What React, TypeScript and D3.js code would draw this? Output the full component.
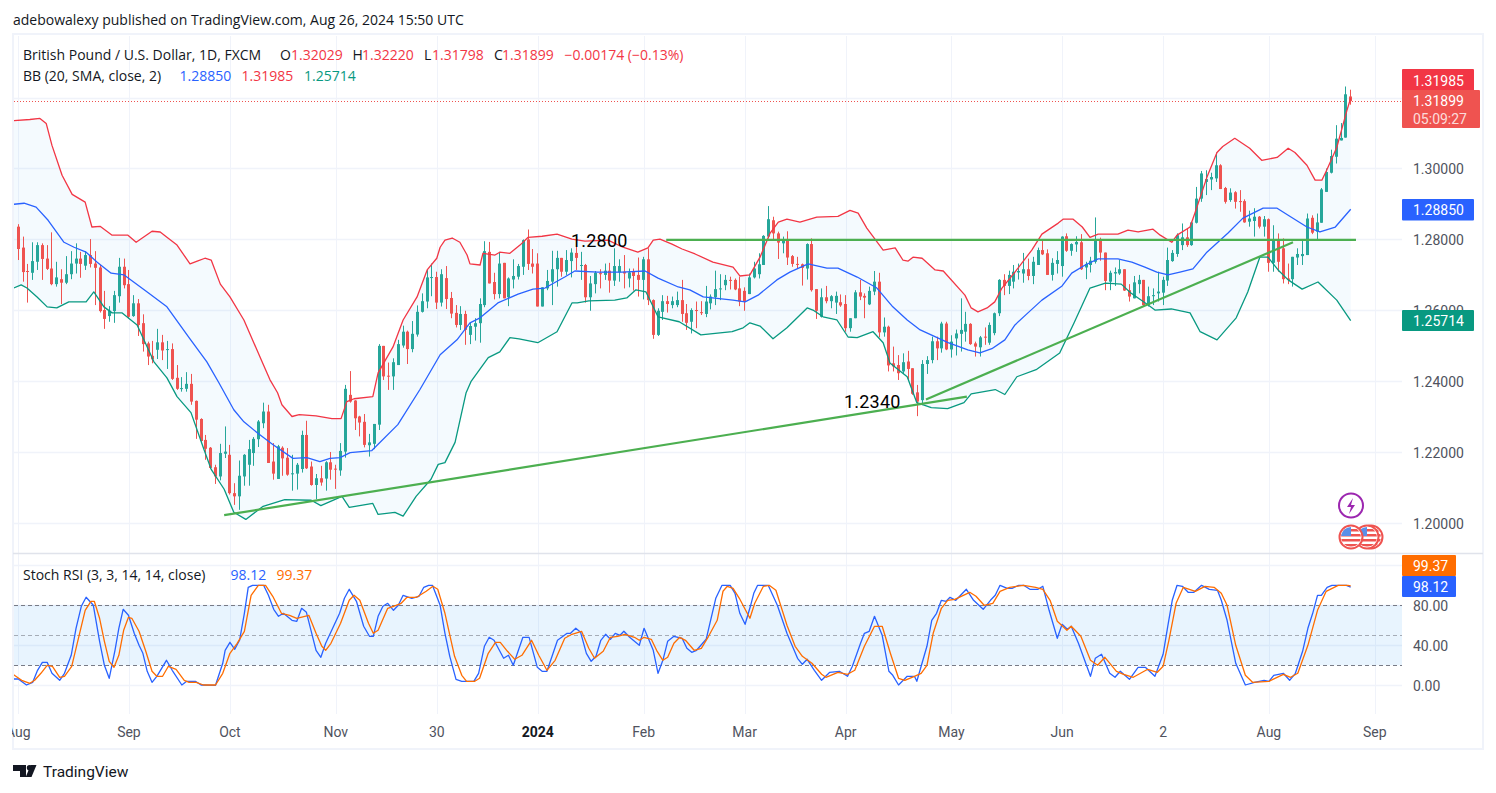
import React from "react";
import * as d3 from "d3";

type C = [number, number, number, number];

// OHLC read off the picture, bar by bar
const candlesAugSep23: C[] = [
[1.2836,1.2843,1.2742,1.2773],[1.2777,1.2808,1.2681,1.2708],[1.2711,1.2731,1.2622,1.2710],[1.2706,1.2792,1.2686,1.2739],[1.2737,1.2792,1.2714,1.2784],[1.2784,1.2789,1.2686,1.2745],[1.2746,1.2784,1.2714,1.2717],[1.2718,1.2820,1.2671,1.2674],[1.2674,1.2737,1.2667,1.2693],[1.2688,1.2716,1.2618,1.2678],
[1.2678,1.2753,1.2674,1.2702],[1.2702,1.2767,1.2688,1.2732],[1.2732,1.2789,1.2704,1.2746],[1.2746,1.2765,1.2692,1.2731],[1.2726,1.2767,1.2714,1.2756],[1.2756,1.2801,1.2721,1.2731],[1.2732,1.2767,1.2615,1.2720],[1.2721,1.2728,1.2594,1.2598],[1.2601,1.2655,1.2548,1.2576],[1.2584,1.2612,1.2568,1.2599],
[1.2598,1.2655,1.2565,1.2643],[1.2640,1.2748,1.2622,1.2723],[1.2723,1.2746,1.2662,1.2671],[1.2674,1.2714,1.2578,1.2582],[1.2584,1.2643,1.2582,1.2620],[1.2620,1.2632,1.2528,1.2559],[1.2564,1.2589,1.2484,1.2505],[1.2507,1.2512,1.2446,1.2470],[1.2472,1.2514,1.2451,1.2462],[1.2489,1.2548,1.2463,1.2510],
[1.2510,1.2531,1.2460,1.2487],[1.2489,1.2514,1.2435,1.2491],[1.2491,1.2507,1.2404,1.2407],[1.2410,1.2446,1.2376,1.2379],[1.2379,1.2412,1.2371,1.2381],[1.2379,1.2426,1.2371,1.2393],[1.2393,1.2421,1.2334,1.2343],[1.2345,1.2346,1.2238,1.2292],[1.2294,1.2296,1.2230,1.2232],[1.2235,1.2249,1.2179,1.2210],
[1.2213,1.2215,1.2153,1.2156],[1.2158,1.2165,1.2111,1.2132],[1.2132,1.2224,1.2121,1.2198],[1.2196,1.2273,1.2184,1.2202],[1.2193,1.2221,1.2081,1.2085],[1.2085,1.2113,1.2052,1.2076],[1.2076,1.2177,1.2038,1.2134],
];
const candlesOctDec23: C[] = [
[1.2132,1.2195,1.2106,1.2193],[1.2165,1.2235,1.2106,1.2209],[1.2198,1.2243,1.2162,1.2238],[1.2237,1.2291,1.2215,1.2287],[1.2282,1.2340,1.2268,1.2315],[1.2315,1.2334,1.2170,1.2170],[1.2174,1.2226,1.2123,1.2140],[1.2125,1.2221,1.2125,1.2217],[1.2213,1.2217,1.2134,1.2183],[1.2185,1.2212,1.2134,1.2137],
[1.2138,1.2193,1.2092,1.2141],[1.2140,1.2170,1.2095,1.2165],[1.2153,1.2261,1.2143,1.2249],[1.2249,1.2289,1.2153,1.2155],[1.2160,1.2174,1.2106,1.2108],[1.2108,1.2139,1.2068,1.2127],[1.2127,1.2162,1.2106,1.2115],[1.2126,1.2175,1.2092,1.2172],[1.2172,1.2201,1.2123,1.2151],[1.2154,1.2165,1.2097,1.2152],
[1.2149,1.2226,1.2134,1.2204],[1.2202,1.2390,1.2185,1.2379],[1.2362,1.2429,1.2340,1.2343],[1.2346,1.2347,1.2263,1.2296],[1.2301,1.2303,1.2245,1.2284],[1.2286,1.2308,1.2214,1.2221],[1.2220,1.2252,1.2188,1.2228],[1.2224,1.2280,1.2209,1.2280],[1.2278,1.2505,1.2263,1.2500],[1.2500,1.2500,1.2404,1.2414],
[1.2416,1.2453,1.2376,1.2414],[1.2414,1.2465,1.2376,1.2454],[1.2446,1.2517,1.2446,1.2505],[1.2501,1.2557,1.2495,1.2540],[1.2540,1.2543,1.2449,1.2491],[1.2491,1.2570,1.2482,1.2534],[1.2532,1.2614,1.2526,1.2596],[1.2596,1.2648,1.2594,1.2626],[1.2625,1.2714,1.2606,1.2693],[1.2692,1.2732,1.2640,1.2694],
[1.2694,1.2709,1.2604,1.2622],[1.2622,1.2716,1.2611,1.2702],[1.2691,1.2725,1.2604,1.2632],[1.2635,1.2652,1.2578,1.2591],[1.2593,1.2615,1.2552,1.2559],[1.2559,1.2612,1.2545,1.2590],[1.2590,1.2599,1.2503,1.2545],
];
const candlesDec23Feb24: C[] = [
[1.2531,1.2565,1.2505,1.2556],[1.2554,1.2578,1.2515,1.2564],[1.2564,1.2634,1.2509,1.2618],[1.2615,1.2795,1.2609,1.2767],[1.2765,1.2793,1.2676,1.2676],[1.2680,1.2706,1.2631,1.2646],[1.2646,1.2765,1.2634,1.2732],[1.2734,1.2734,1.2634,1.2634],[1.2637,1.2693,1.2612,1.2690],[1.2687,1.2744,1.2662,1.2697],
[1.2695,1.2731,1.2687,1.2725],[1.2723,1.2800,1.2700,1.2798],[1.2800,1.2828,1.2714,1.2731],[1.2732,1.2773,1.2704,1.2723],[1.2732,1.2761,1.2611,1.2611],[1.2611,1.2665,1.2611,1.2665],[1.2662,1.2714,1.2657,1.2683],[1.2681,1.2768,1.2615,1.2716],[1.2716,1.2768,1.2667,1.2748],[1.2748,1.2748,1.2695,1.2709],
[1.2709,1.2770,1.2700,1.2742],[1.2739,1.2775,1.2693,1.2763],[1.2762,1.2789,1.2714,1.2748],[1.2726,1.2765,1.2686,1.2728],[1.2728,1.2731,1.2622,1.2637],[1.2637,1.2697,1.2599,1.2676],[1.2674,1.2711,1.2648,1.2706],[1.2705,1.2716,1.2662,1.2702],[1.2700,1.2732,1.2686,1.2712],[1.2712,1.2734,1.2650,1.2684],
[1.2684,1.2775,1.2669,1.2725],[1.2707,1.2744,1.2681,1.2725],[1.2709,1.2756,1.2662,1.2704],[1.2690,1.2718,1.2665,1.2707],[1.2709,1.2718,1.2656,1.2697],[1.2700,1.2749,1.2639,1.2686],[1.2686,1.2751,1.2631,1.2744],[1.2744,1.2775,1.2615,1.2629],[1.2629,1.2631,1.2520,1.2531],[1.2531,1.2606,1.2528,1.2599],
[1.2596,1.2643,1.2573,1.2626],[1.2626,1.2641,1.2594,1.2618],[1.2615,1.2639,1.2606,1.2626],[1.2615,1.2653,1.2609,1.2629],[1.2629,1.2686,1.2568,1.2590],[1.2592,1.2618,1.2545,1.2565],[1.2568,1.2606,1.2535,1.2601],
];
const candlesFebApr24: C[] = [
[1.2601,1.2625,1.2550,1.2599],[1.2595,1.2626,1.2587,1.2593],[1.2590,1.2669,1.2581,1.2625],[1.2620,1.2645,1.2603,1.2639],[1.2637,1.2712,1.2615,1.2660],[1.2660,1.2702,1.2629,1.2662],[1.2671,1.2700,1.2657,1.2686],[1.2686,1.2695,1.2659,1.2684],[1.2686,1.2690,1.2657,1.2659],[1.2662,1.2695,1.2612,1.2625],
[1.2655,1.2665,1.2599,1.2625],[1.2646,1.2704,1.2646,1.2693],[1.2693,1.2737,1.2690,1.2718],[1.2702,1.2761,1.2690,1.2730],[1.2728,1.2812,1.2728,1.2810],[1.2808,1.2894,1.2803,1.2857],[1.2854,1.2864,1.2796,1.2817],[1.2817,1.2822,1.2745,1.2791],[1.2789,1.2808,1.2761,1.2800],[1.2798,1.2823,1.2728,1.2749],
[1.2753,1.2756,1.2723,1.2731],[1.2731,1.2751,1.2718,1.2729],[1.2730,1.2732,1.2670,1.2720],[1.2718,1.2789,1.2687,1.2787],[1.2787,1.2803,1.2653,1.2657],[1.2660,1.2660,1.2576,1.2599],[1.2582,1.2662,1.2580,1.2637],[1.2637,1.2669,1.2620,1.2626],[1.2626,1.2643,1.2606,1.2640],[1.2622,1.2653,1.2590,1.2641],
[1.2623,1.2645,1.2610,1.2614],[1.2618,1.2643,1.2540,1.2550],[1.2550,1.2578,1.2540,1.2578],[1.2578,1.2657,1.2578,1.2651],[1.2651,1.2686,1.2629,1.2639],[1.2641,1.2648,1.2578,1.2636],[1.2617,1.2667,1.2615,1.2655],[1.2653,1.2711,1.2643,1.2681],[1.2681,1.2706,1.2524,1.2538],[1.2538,1.2580,1.2526,1.2554],
[1.2554,1.2557,1.2428,1.2445],[1.2451,1.2498,1.2428,1.2442],[1.2446,1.2474,1.2404,1.2423],[1.2428,1.2479,1.2421,1.2454],[1.2456,1.2486,1.2404,1.2435],[1.2437,1.2437,1.2362,1.2365],[1.2369,1.2390,1.2302,1.2343],
];
const candlesAprJun24: C[] = [
[1.2347,1.2460,1.2333,1.2449],[1.2449,1.2471,1.2421,1.2460],[1.2460,1.2526,1.2451,1.2513],[1.2513,1.2526,1.2460,1.2493],[1.2493,1.2568,1.2481,1.2563],[1.2563,1.2568,1.2488,1.2490],[1.2490,1.2530,1.2467,1.2512],[1.2521,1.2546,1.2473,1.2535],[1.2534,1.2634,1.2484,1.2545],[1.2540,1.2596,1.2512,1.2562],
[1.2562,1.2564,1.2503,1.2505],[1.2507,1.2512,1.2470,1.2498],[1.2496,1.2528,1.2470,1.2524],[1.2526,1.2552,1.2503,1.2524],[1.2509,1.2566,1.2503,1.2559],[1.2536,1.2594,1.2530,1.2592],[1.2592,1.2688,1.2584,1.2686],[1.2686,1.2702,1.2643,1.2669],[1.2669,1.2712,1.2646,1.2700],[1.2681,1.2728,1.2662,1.2709],
[1.2707,1.2732,1.2687,1.2711],[1.2704,1.2762,1.2678,1.2716],[1.2716,1.2746,1.2685,1.2697],[1.2697,1.2751,1.2674,1.2737],[1.2728,1.2777,1.2728,1.2770],[1.2770,1.2800,1.2756,1.2758],[1.2761,1.2772,1.2700,1.2700],[1.2700,1.2747,1.2684,1.2734],[1.2731,1.2767,1.2704,1.2742],[1.2725,1.2809,1.2695,1.2808],
[1.2809,1.2817,1.2765,1.2768],[1.2768,1.2789,1.2754,1.2787],[1.2786,1.2809,1.2765,1.2793],[1.2792,1.2815,1.2714,1.2716],[1.2721,1.2737,1.2688,1.2731],[1.2728,1.2751,1.2707,1.2740],[1.2737,1.2862,1.2732,1.2798],[1.2798,1.2805,1.2740,1.2763],[1.2763,1.2763,1.2657,1.2683],[1.2681,1.2712,1.2657,1.2706],
[1.2704,1.2721,1.2669,1.2708],[1.2704,1.2742,1.2700,1.2716],[1.2716,1.2716,1.2655,1.2656],[1.2657,1.2674,1.2625,1.2639],[1.2634,1.2697,1.2634,1.2679],[1.2674,1.2700,1.2648,1.2686],
];
const candlesJunAug24: C[] = [
[1.2686,1.2686,1.2611,1.2615],[1.2615,1.2667,1.2611,1.2640],[1.2640,1.2662,1.2615,1.2643],[1.2648,1.2709,1.2625,1.2653],[1.2650,1.2695,1.2615,1.2686],[1.2684,1.2777,1.2669,1.2742],[1.2739,1.2770,1.2737,1.2762],[1.2759,1.2817,1.2751,1.2812],[1.2784,1.2845,1.2770,1.2806],[1.2806,1.2831,1.2779,1.2784],
[1.2784,1.2850,1.2782,1.2848],[1.2847,1.2948,1.2845,1.2915],[1.2915,1.2993,1.2906,1.2986],[1.2962,1.2995,1.2925,1.2970],[1.2969,1.2988,1.2939,1.2976],[1.2972,1.3045,1.2962,1.3009],[1.3009,1.3012,1.2942,1.2942],[1.2945,1.2948,1.2901,1.2906],[1.2911,1.2944,1.2906,1.2932],[1.2933,1.2936,1.2887,1.2906],
[1.2908,1.2939,1.2878,1.2906],[1.2908,1.2913,1.2847,1.2848],[1.2850,1.2881,1.2836,1.2859],[1.2852,1.2888,1.2808,1.2864],[1.2864,1.2866,1.2831,1.2836],[1.2836,1.2866,1.2808,1.2857],[1.2857,1.2859,1.2709,1.2734],[1.2734,1.2840,1.2709,1.2800],[1.2796,1.2817,1.2709,1.2737],[1.2775,1.2803,1.2676,1.2688],
[1.2690,1.2732,1.2674,1.2686],[1.2688,1.2751,1.2667,1.2751],[1.2749,1.2775,1.2728,1.2759],[1.2753,1.2798,1.2728,1.2759],[1.2756,1.2873,1.2756,1.2859],[1.2861,1.2868,1.2815,1.2819],[1.2822,1.2873,1.2800,1.2848],[1.2847,1.2945,1.2847,1.2941],[1.2934,1.3000,1.2934,1.2990],[1.2988,1.3053,1.2986,1.3035],
[1.3033,1.3122,1.3014,1.3084],[1.3079,1.3128,1.3079,1.3086],[1.3087,1.3231,1.3087,1.3209],[1.32029,1.32220,1.31798,1.31899],
];

// Bollinger bands: [bar, price]
const bbUpper: number[][] = [[-1,1.3135],[2.4,1.3138],[4.5,1.3141],[5.8,1.3127],[7,1.3065],[9.1,1.2981],[11.2,1.2927],[13.9,1.2905],[15.3,1.2835],[17,1.2837],[19.5,1.2812],[22.8,1.2812],[24.5,1.2792],[27.8,1.2823],[29.5,1.2821],[31.1,1.2804],[33,1.2784],[35.7,1.2731],[37.2,1.2739],[38.8,1.2747],[40.1,1.2742],[42,1.2674],[44,1.2638],[46.9,1.2573],[50.5,1.2461],[52.3,1.2405],[53.9,1.2368],[54.8,1.2334],[56.9,1.2301],[58.4,1.2306],[61.9,1.2303],[65.2,1.2295],[67.1,1.2295],[68.3,1.2343],[69.8,1.2351],[73.7,1.2357],[74.8,1.2424],[77.9,1.2497],[80,1.2573],[82.9,1.2638],[85,1.2714],[87,1.2747],[87.7,1.2778],[88.7,1.2798],[90.2,1.2804],[91.8,1.2792],[93.3,1.2756],[93.9,1.2731],[96,1.2728],[96.6,1.2761],[99.1,1.2756],[100.1,1.2764],[102.2,1.2761],[104.3,1.2784],[106,1.2806],[108.9,1.2809],[112,1.2815],[115.1,1.2801],[117.8,1.2795],[122.6,1.2798],[125.7,1.2778],[128.8,1.2764],[130.9,1.2776],[132,1.2798],[133.4,1.2801],[135.9,1.2787],[138,1.2773],[140.7,1.2759],[144.4,1.2736],[148.6,1.2722],[150,1.2697],[152.1,1.27],[154.2,1.275],[156.3,1.2818],[158,1.2849],[159.8,1.2857],[162.5,1.2849],[166,1.2863],[170.4,1.2865],[172.9,1.2882],[174.6,1.2874],[176.4,1.2832],[179.8,1.277],[182.3,1.2776],[183.9,1.2742],[185,1.2739],[186,1.275],[187.9,1.2747],[190.6,1.2714],[192.3,1.2711],[196.8,1.2643],[198.1,1.2607],[199.5,1.2596],[201.4,1.2607],[203,1.2624],[204.5,1.2663],[207.2,1.2708],[210.7,1.277],[212.8,1.2815],[216.2,1.2846],[217.2,1.2857],[219.3,1.2857],[221.2,1.2835],[222.8,1.2806],[224.5,1.2815],[228.6,1.2815],[230.7,1.2826],[232.8,1.2821],[235.9,1.2829],[237.4,1.2812],[239.8,1.2792],[240.9,1.2812],[243.6,1.2835],[244.6,1.2874],[247.1,1.2975],[249.2,1.3045],[250.4,1.3062],[252.9,1.3085],[256,1.3057],[258.5,1.3023],[261.7,1.3031],[264,1.3057],[265.4,1.3045],[267.9,1.3009],[269.6,1.2967],[271,1.2967],[272,1.2995],[274.1,1.3059],[276.2,1.3163],[277,1.31985]];
const bbBasis: number[][] = [[-1,1.2899],[1.2,1.2902],[3.7,1.2891],[6.2,1.2854],[9.5,1.2792],[11.6,1.2778],[14.1,1.2764],[16.4,1.2736],[19.3,1.2705],[22,1.27],[26.8,1.2652],[30.9,1.261],[35.5,1.2523],[39.2,1.2455],[41.7,1.2396],[44.8,1.232],[46.9,1.2286],[49.6,1.2256],[52.9,1.2222],[57.1,1.2183],[60,1.2185],[62.7,1.2174],[64.8,1.2183],[66.9,1.2185],[69,1.2199],[73.5,1.2205],[78.9,1.2278],[83.5,1.2377],[87.7,1.2475],[91.2,1.2517],[93.9,1.2565],[96,1.2579],[99.7,1.2621],[103.9,1.2646],[107,1.266],[109.5,1.2663],[113.6,1.2694],[115.7,1.2711],[120.5,1.2708],[125.5,1.2708],[130.3,1.2711],[133,1.2691],[137.2,1.2666],[139.6,1.2658],[142.4,1.2638],[148.6,1.2629],[151.1,1.2624],[153.8,1.2643],[157.7,1.2686],[160.4,1.2708],[164.2,1.2731],[168.1,1.2719],[170.4,1.2719],[174.4,1.2694],[178.5,1.2663],[181.8,1.261],[184.8,1.2573],[187.5,1.2545],[193.3,1.2509],[197.4,1.2489],[199.9,1.248],[202.4,1.2492],[205.1,1.2517],[207.2,1.2559],[209.9,1.2593],[212.8,1.2629],[217,1.2669],[219,1.2705],[221.8,1.2728],[224.5,1.2745],[228.6,1.2745],[231.5,1.2736],[234.2,1.2722],[236.7,1.2708],[239,1.27],[241.5,1.2708],[244.2,1.2717],[247.1,1.2764],[251.5,1.2818],[254.6,1.286],[258.8,1.2888],[261.7,1.2888],[264,1.2868],[267.9,1.2835],[270.6,1.2821],[273.8,1.2835],[277,1.2885]];
const bbLower: number[][] = [[-1,1.2663],[0.6,1.2672],[1.8,1.2663],[3.9,1.2638],[6,1.261],[8,1.2607],[10.5,1.2624],[14.1,1.2624],[15.7,1.2652],[17.8,1.261],[19.5,1.2593],[21.6,1.2593],[23.4,1.2573],[24.7,1.2559],[28.2,1.2455],[30.9,1.241],[33,1.2357],[35.9,1.2312],[38.6,1.2208],[40.1,1.2152],[42.8,1.2096],[44.8,1.2031],[47.3,1.2011],[50.9,1.2048],[55.4,1.2067],[60.9,1.2065],[62.9,1.205],[67.3,1.2076],[68.8,1.2045],[73.7,1.2056],[74.8,1.2025],[78.3,1.2031],[80,1.202],[82.7,1.2076],[85.8,1.2124],[87.3,1.2166],[88.7,1.2171],[90.8,1.2228],[93.1,1.2368],[94.1,1.2399],[97.7,1.2467],[100.1,1.2483],[102.2,1.2523],[104.1,1.252],[108,1.2509],[112,1.254],[115.1,1.2621],[116.2,1.2621],[118.6,1.2627],[124,1.2629],[126.5,1.2635],[128.4,1.2658],[130.5,1.2652],[133,1.2582],[137.4,1.2568],[141.9,1.2531],[148.4,1.254],[150.7,1.2551],[152.1,1.2565],[154.2,1.2556],[156.9,1.252],[159.8,1.2551],[164,1.2607],[165.2,1.2601],[167.3,1.2582],[170.2,1.2573],[172.5,1.2525],[174.4,1.2523],[177.7,1.254],[179.8,1.2509],[181.2,1.2452],[184.8,1.2413],[186.8,1.234],[189.8,1.2326],[193.2,1.2323],[196.6,1.234],[198.1,1.2365],[203.1,1.2377],[205.1,1.2363],[207.6,1.2413],[211.6,1.2433],[216.5,1.248],[219.5,1.2565],[222.8,1.2663],[226,1.2677],[229.3,1.2674],[231.3,1.2649],[234.9,1.2615],[236.3,1.2601],[239.7,1.2604],[243.6,1.2593],[245.7,1.254],[249.2,1.2517],[253.2,1.2579],[255.6,1.2652],[258.1,1.275],[259.8,1.275],[261.9,1.2714],[264,1.2686],[266.9,1.266],[270.2,1.268],[274.1,1.2629],[277,1.25714]];

// Stoch RSI: [bar, value]
const stochK: number[][] = [[-1.1,6.3],[0,6.3],[1.7,0.3],[3,3],[4,15],[5,23],[6,23],[7,12],[8.6,5],[9.6,12],[11,30],[12,57],[13.1,79],[14.1,88],[15.6,80],[16.9,44],[17.9,20],[18.9,7],[20.1,35],[20.9,57],[21.8,76],[22.9,70],[24.1,52],[25.1,40],[25.9,32],[26.8,14],[27.8,3],[28.8,9],[30.8,25],[32,15],[34,0.3],[35,4],[36.8,4],[38,0.3],[41,0],[42.5,22],[43,35],[44,43],[45,36],[46,45],[47,72],[47.8,98],[48.7,100],[51,100],[52,90],[53.1,76],[54.1,69],[55.1,72],[56.9,65],[57.9,64],[58.9,77],[59.9,73],[60.9,54],[61.9,35],[62.9,28],[63.9,42],[66.8,72],[67.8,87],[68.8,96],[70.3,84],[71.8,59],[73,49],[73.8,49],[74.8,69],[75.8,79],[76.8,82],[78,75],[79,80],[80,90],[81.8,87],[83.3,89],[84.3,98],[85.3,100],[86.1,100],[87.7,80],[88.7,52],[89.7,29],[91,6],[92.2,4],[94.7,4],[95.7,12],[96.9,39],[97.9,48],[98.9,45],[100.9,27],[101.9,30],[102.9,20],[104.9,48],[106.2,48],[107.9,18],[108.9,14],[109.9,14],[112.1,45],[114.1,52],[114.8,52],[115.9,57],[116.9,53],[118.1,32],[119.1,24],[120.1,29],[121.1,45],[122.1,51],[123.1,46],[124.1,52],[125.1,50],[125.9,54],[127.1,48],[129.1,40],[130.1,57],[132,35],[133,12],[134,25],[135,44],[136.3,49],[138,47],[139,37],[140,33],[141,35],[143,46],[145,87],[146.3,100],[148,100],[149,92],[150,72],[151.1,61],[152.2,79],[152.9,92],[153.7,100],[155.9,100],[157.8,80],[159.8,52],[162,27],[163,21],[164,26],[165.5,15],[167,5],[168.7,13],[170.7,14],[172.4,9],[173.4,19],[175.1,42],[175.9,52],[176.9,54],[178,69],[179.6,50],[181,14],[181.8,10],[183,0.3],[184.8,9],[186.3,9],[186.8,4],[187.7,19],[188.9,39],[189.9,65],[190.9,72],[191.9,85],[192.9,84],[193.7,88],[194.9,85],[197.1,96],[198.6,85],[200.6,76],[202.1,85],[203.1,90],[204.1,100],[205.6,97],[206.6,97],[208,100],[209,100],[210.3,96],[212,96],[213,99],[214.3,75],[216,47],[217,61],[218.1,56],[218.9,59],[220.4,42],[222.9,9],[223.9,27],[225.2,31],[226.9,12],[228,8],[229.1,14],[231,6],[232.8,18],[234.3,18],[236.3,9],[238,31],[239,60],[239.9,85],[240.9,100],[242,99],[243.2,93],[244.4,93],[246,100],[247.6,96],[249.3,95],[250.1,85],[251.3,65],[253.1,22],[255.1,0.3],[257,3],[259,5],[260,4],[261,10],[263,12],[264.3,5],[265.5,12],[267,34],[268.1,57],[269.1,72],[270.1,90],[270.9,90],[272.1,98],[273.1,100],[274.9,100],[276.1,100],[277,98.12]];
const stochD: number[][] = [[-1.1,11],[0.7,5],[2.4,2],[3.4,5],[4.7,12],[6,20],[7.1,19],[8.6,8],[9.6,9],[11.1,19],[12.6,49],[13.9,75],[15.1,84],[15.8,84],[16.9,67],[17.9,44],[18.9,24],[19.9,18],[20.9,30],[21.9,55],[22.9,68],[23.6,67],[25.1,54],[26.5,34],[27.8,14],[28.8,9],[30,9],[31.2,19],[32.8,16],[34.5,5],[35.5,3],[37,3],[38.5,0.3],[41,0.3],[42.5,12],[44,32],[45.5,42],[47,54],[48.4,90],[49.9,100],[51.4,100],[52.9,89],[54.7,72],[56.4,70],[57.9,67],[60.4,70],[61.9,52],[63.1,39],[63.9,35],[65,42],[67,62],[68.8,85],[69.8,90],[71,85],[72.8,62],[73.8,52],[74.8,55],[76.8,77],[78,79],[79.6,82],[80.8,88],[82.8,88],[84.8,94],[86.2,99],[87.2,96],[88.7,72],[90.7,29],[92.2,10],[93.2,4],[94.9,4],[95.9,7],[97.7,32],[99.2,43],[100.2,43],[101.7,34],[103.2,26],[104.7,30],[106.7,45],[108.2,30],[109.9,15],[111.6,25],[113.6,47],[115.1,51],[117.1,54],[118.6,37],[119.8,27],[121.6,34],[123.1,48],[124.6,49],[126.1,51],[128.1,48],[129.1,45],[130.1,48],[131.6,46],[132.7,35],[134,25],[135,28],[136.3,42],[137.5,48],[138.7,45],[140.5,35],[142,37],[143.5,49],[145.3,65],[146.5,94],[147.4,99],[148.6,97],[149.9,87],[151.1,76],[152.1,67],[153.1,82],[154.9,99],[156.1,100],[157.5,95],[159.8,60],[161.5,39],[163,29],[165,22],[167,11],[167.9,8],[170.4,13],[172.4,11],[173.9,15],[175.9,39],[178,59],[179.6,59],[181.3,32],[183,7],[184.3,5],[186.3,9],[187.7,12],[188.9,20],[190.2,52],[191.9,77],[193.2,85],[194.7,86],[197.8,93],[199.1,89],[200.8,80],[202.6,82],[204.1,94],[206.1,98],[209,100],[211.5,98],[213,96],[214.5,85],[216,64],[218,55],[218.9,59],[220.9,49],[222.9,25],[224.4,20],[225.9,28],[228.3,14],[229.8,11],[231.8,8],[234.8,16],[236.8,13],[238,19],[239.2,45],[240.7,82],[242.2,98],[244.7,94],[246.7,99],[248.6,98],[250.1,92],[251.3,80],[253.1,40],[255.1,10],[256.6,3],[260,4],[263,11],[264.5,8],[266,12],[268.1,40],[270.1,75],[271.9,94],[274.4,100],[276.4,100],[277,99.37]];

// Hand-drawn trend lines: [[bar, price],[bar, price]]
const lineFlat: number[][] = [[134.7,1.2799],[278.1,1.2799]];
const lineLongRise: number[][] = [[42.8,1.2023],[197.2,1.2357]];
const lineShortRise: number[][] = [[188.7,1.2349],[265,1.2792]];

const timeTickBars = [0,23,44,66,87,108,130,151,172,194,217,238,260,282];
const timeTickLabels = ["Aug","Sep","Oct","Nov","30","2024","Feb","Mar","Apr","May","Jun","2","Aug","Sep"];
const priceTicks = [1.2,1.22,1.24,1.26,1.28,1.3,1.32];
const stochTicks = [0,40,80,120];

const candles = [...candlesAugSep23,...candlesOctDec23,...candlesDec23Feb24,...candlesFebApr24,...candlesAprJun24,...candlesJunAug24];

const FONT = "Roboto, sans-serif";
const LEGEND = "'Open Sans', sans-serif";
const GRID = "#f0f3fa";
const UP = "#26a69a";
const DOWN = "#ef5350";
const RED = "#f23645";
const BLUE = "#2962ff";
const TEAL = "#089981";
const ORANGE = "#ff6d00";
const TXT = "#131722";
const AXT = "#50535e";
const PL = 14, PR = 1402;

const x = d3.scaleLinear().domain([0,277]).range([18.3,1350.7]);
const y = d3.scaleLinear().domain([1.2,1.32]).range([523.3,97.5]);
const s = d3.scaleLinear().domain([0,120]).range([685.3,565.3]);

const pline = d3.line<number[]>().x(d=>x(d[0])).y(d=>y(d[1]));
const sline = d3.line<number[]>().x(d=>x(d[0])).y(d=>s(d[1]));
const fillPath = pline(bbUpper)! + "L" + [...bbLower].reverse().map(d=>`${x(d[0])},${y(d[1])}`).join("L") + "Z";

function Tag({top,bot,w,fill,lines}:{top:number;bot:number;w:number;fill:string;lines:[string,number,string?][]}){
  return <g>
    <rect x={PR} y={top} width={w} height={bot-top} rx={1} fill={fill}/>
    {lines.map(([t,yy,c],i)=><text key={i} x={1413} y={yy} dominantBaseline="central" fontSize={14} fontFamily={FONT} fill={c||"#fff"}>{t}</text>)}
  </g>;
}

function Flag({cx,cy}:{cx:number;cy:number}){
  const id=`f${cx}`;
  return <g>
    <clipPath id={id}><circle cx={cx} cy={cy} r={10}/></clipPath>
    <circle cx={cx} cy={cy} r={11.5} fill="#fff" stroke="#ef5350" strokeWidth={2}/>
    <g clipPath={`url(#${id})`}>
      <rect x={cx-10} y={cy-10} width={20} height={20} fill="#fff"/>
      {[-8,-3,2,7].map(d=><rect key={d} x={cx-10} y={cy+d} width={20} height={2.5} fill="#ef5350"/>)}
      <rect x={cx-10} y={cy-10} width={10} height={9} fill="#5b8fe8"/>
    </g>
  </g>;
}

export default function App(){
  return (
    <svg width={1496} height={793} viewBox="0 0 1496 793" style={{position:"absolute",left:0,top:0,background:"#fff"}}>
      <text x={13} y={24.5} fontFamily={LEGEND} fontSize={14} fill={TXT}>adebowalexy published on TradingView.com, Aug 26, 2024 15:50 UTC</text>
      <defs>
        <clipPath id="main"><rect x={PL} y={36} width={PR-PL} height={517}/></clipPath>
        <clipPath id="sub"><rect x={PL} y={555} width={PR-PL} height={159}/></clipPath>
      </defs>

      {/* grid */}
      {timeTickBars.map(b=><line key={b} x1={Math.round(x(b))+.5} x2={Math.round(x(b))+.5} y1={36} y2={714} stroke={GRID} strokeWidth={1}/>)}
      {priceTicks.map(p=><line key={p} x1={PL} x2={PR} y1={Math.round(y(p))+.5} y2={Math.round(y(p))+.5} stroke={GRID} strokeWidth={1.3}/>)}
      {stochTicks.map(p=><line key={p} x1={PL} x2={PR} y1={Math.round(s(p))+.5} y2={Math.round(s(p))+.5} stroke={GRID} strokeWidth={1.3}/>)}

      {/* frame */}
      <rect x={13} y={34} width={1470} height={715} fill="none" stroke={GRID} strokeWidth={2}/>
      <line x1={13} x2={1483} y1={553.5} y2={553.5} stroke="#e0e3eb" strokeWidth={1.5}/>

      {/* Bollinger */}
      <path d={fillPath} fill="#2196f3" fillOpacity={0.05} clipPath="url(#main)"/>

      {/* last price line */}
      <line x1={PL} x2={PR} y1={Math.round(y(1.31899))+.5} y2={Math.round(y(1.31899))+.5} stroke={DOWN} strokeWidth={1} strokeDasharray="1 2"/>

      <g clipPath="url(#main)">
        {candles.map((d,i)=>{
          const [o,h,l,c]=d; const col=c>=o?UP:DOWN; const cx=Math.round(x(i)-.5);
          const t=y(Math.max(o,c)); const b=y(Math.min(o,c));
          return <g key={i} fill={col}>
            <rect x={cx} y={y(h)} width={1} height={y(l)-y(h)}/>
            <rect x={cx-1} y={t} width={3} height={Math.max(1,b-t)}/>
          </g>;
        })}
        <path d={pline(bbUpper)!} fill="none" stroke={RED} strokeWidth={1.3} strokeLinejoin="round"/>
        <path d={pline(bbBasis)!} fill="none" stroke={BLUE} strokeWidth={1.3} strokeLinejoin="round"/>
        <path d={pline(bbLower)!} fill="none" stroke={TEAL} strokeWidth={1.3} strokeLinejoin="round"/>
        {[lineFlat,lineLongRise,lineShortRise].map((l,i)=><path key={i} d={pline(l)!} fill="none" stroke="#4caf50" strokeWidth={2.2}/>)}
      </g>

      {/* annotations */}
      <text x={571} y={240} dominantBaseline="central" fontFamily={FONT} fontSize={18} letterSpacing={0.2} fill="#000">1.2800</text>
      <text x={844} y={401} dominantBaseline="central" fontFamily={FONT} fontSize={18} letterSpacing={0.2} fill="#000">1.2340</text>

      {/* events */}
      <circle cx={1351} cy={505.5} r={12} fill="#fff" stroke="#9c27b0" strokeWidth={2}/>
      <path d="M1353 498l-6 9h4l-2 7 6-9h-4z" fill="#9c27b0"/>
      <Flag cx={1371} cy={537}/>
      <Flag cx={1367} cy={537}/>
      <Flag cx={1351} cy={537}/>

      {/* legend */}
      <g fontFamily={LEGEND} fontSize={14}>
        <text x={23} y={54} dominantBaseline="central" fill={TXT}>British Pound / U.S. Dollar, 1D, FXCM</text>
        <text x={280} y={54} dominantBaseline="central" fill={TXT}>O</text>
        <text x={291} y={54} dominantBaseline="central" fill={RED}>1.32029</text>
        <text x={352.5} y={54} dominantBaseline="central" fill={TXT}>H</text>
        <text x={362} y={54} dominantBaseline="central" fill={RED}>1.32220</text>
        <text x={424} y={54} dominantBaseline="central" fill={TXT}>L</text>
        <text x={432} y={54} dominantBaseline="central" fill={RED}>1.31798</text>
        <text x={494} y={54} dominantBaseline="central" fill={TXT}>C</text>
        <text x={502} y={54} dominantBaseline="central" fill={RED}>1.31899</text>
        <text x={564.5} y={54} dominantBaseline="central" fill={RED}>−0.00174 (−0.13%)</text>
        <text x={23} y={75} dominantBaseline="central" fill={TXT}>BB (20, SMA, close, 2)</text>
        <text x={179.5} y={75} dominantBaseline="central" fill={BLUE}>1.28850</text>
        <text x={241.5} y={75} dominantBaseline="central" fill={RED}>1.31985</text>
        <text x={304} y={75} dominantBaseline="central" fill={TEAL}>1.25714</text>
        <text x={23} y={574} dominantBaseline="central" fill={TXT}>Stoch RSI (3, 3, 14, 14, close)</text>
        <text x={230.5} y={574} dominantBaseline="central" fill={BLUE}>98.12</text>
        <text x={276.5} y={574} dominantBaseline="central" fill={ORANGE}>99.37</text>
      </g>

      {/* stoch pane */}
      <rect x={PL} width={PR-PL} y={s(80)} height={s(20)-s(80)} fill="#2196f3" fillOpacity={0.1}/>
      {[80,50,20].map(v=><line key={v} x1={PL} x2={PR} y1={Math.round(s(v))+.5} y2={Math.round(s(v))+.5} stroke="#787b86" strokeOpacity={v===50?.6:1} strokeDasharray="4 3"/>)}
      <g clipPath="url(#sub)">
        <path d={sline(stochK)!} fill="none" stroke={BLUE} strokeWidth={1.3} strokeLinejoin="round"/>
        <path d={sline(stochD)!} fill="none" stroke={ORANGE} strokeWidth={1.3} strokeLinejoin="round"/>
      </g>

      {/* axes */}
      <g fontFamily={FONT} fontSize={14} fill={AXT}>
        {priceTicks.filter(p=>p<1.31).map(p=><text key={p} x={1413} y={y(p)+.7} dominantBaseline="central">{p.toFixed(5)}</text>)}
        {stochTicks.map(p=><text key={p} x={1413} y={s(p)+.7} dominantBaseline="central">{p.toFixed(2)}</text>)}
        {timeTickBars.map((b,i)=><text key={i} x={x(b)} y={731.500} dominantBaseline="central" textAnchor="middle" fontWeight={timeTickLabels[i]==="2024"?700:400} fill={timeTickLabels[i]==="2024"?TXT:AXT}>{timeTickLabels[i]}</text>)}
      </g>

      <Tag top={69} bot={91} w={72} fill={RED} lines={[["1.31985",80.5]]}/>
      <Tag top={90} bot={128} w={78} fill={DOWN} lines={[["1.31899",101],["05:09:27",118.5,"#ffffffcc"]]}/>
      <Tag top={199} bot={220.5} w={72} fill={BLUE} lines={[["1.28850",210]]}/>
      <Tag top={310} bot={331} w={72} fill={TEAL} lines={[["1.25714",321]]}/>
      <Tag top={555} bot={576} w={54} fill={ORANGE} lines={[["99.37",566]]}/>
      <Tag top={576} bot={597} w={54} fill={BLUE} lines={[["98.12",587]]}/>

      {/* footer: mask the left overflow of the first label */}
      <rect x={0} y={716} width={12} height={30} fill="#fff"/>
      <g fill={TXT}>
        <path d="M13 765h13v12h-6v-6h-7z"/>
        <circle cx={29.5} cy={767.7} r={2.7}/>
        <path d="M31.5 777l5-12h-5.800l-5 12z"/>
      </g>
      <text x={43} y={772} dominantBaseline="central" fontFamily={FONT} fontSize={15.5} fill={TXT}>TradingView</text>
    </svg>
  );
}
